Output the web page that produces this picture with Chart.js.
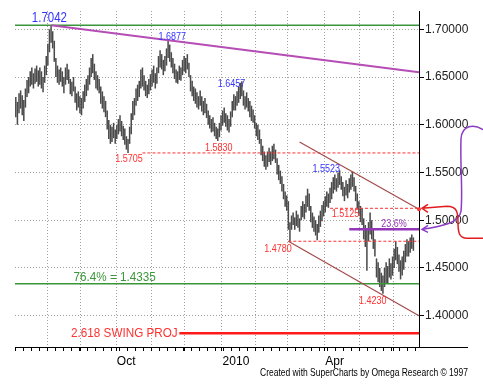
<!DOCTYPE html>
<html>
<head>
<meta charset="utf-8">
<script src="https://cdn.jsdelivr.net/npm/chart.js@4.4.1/dist/chart.umd.min.js"></script>
<style>
  html, body { margin: 0; padding: 0; background: #fff; }
</style>
</head>
<body>
<canvas id="myChart" width="483" height="390"></canvas>
<script>
// daily bars, [low, high] per trading day, one array per month
const jul09 = [[1.6080,1.6290],[1.6000,1.6240],[1.6120,1.6330],[1.6170,1.6360],[1.6100,1.6310],[1.6040,1.6260],[1.6180,1.6380],[1.6290,1.6470],[1.6330,1.6500],[1.6400,1.6560],
  [1.6420,1.6600],[1.6380,1.6540],[1.6430,1.6590],[1.6450,1.6620],[1.6400,1.6570],[1.6420,1.6600],[1.6380,1.6560],[1.6340,1.6500],[1.6440,1.6620],[1.6520,1.6720]];
const aug09 = [[1.6620,1.6850],[1.6760,1.7000],[1.6860,1.7042],[1.6800,1.6980],[1.6660,1.6880],[1.6500,1.6700],[1.6440,1.6620],[1.6420,1.6580],[1.6450,1.6600],[1.6400,1.6560],
  [1.6330,1.6500],[1.6420,1.6600],[1.6470,1.6640],[1.6430,1.6580],[1.6320,1.6480],[1.6300,1.6450],[1.6350,1.6500],[1.6230,1.6400],[1.6150,1.6330],[1.6180,1.6350],[1.6120,1.6300]];
const sep09 = [[1.6100,1.6280],[1.6170,1.6350],[1.6240,1.6420],[1.6300,1.6480],[1.6360,1.6520],[1.6420,1.6600],[1.6500,1.6700],[1.6540,1.6740],[1.6470,1.6640],[1.6380,1.6560],
  [1.6360,1.6520],[1.6330,1.6480],[1.6220,1.6400],[1.6170,1.6350],[1.6130,1.6300],[1.6080,1.6250],[1.5950,1.6150],[1.5850,1.6050],[1.5800,1.6000],[1.5820,1.5980],[1.5860,1.6020],[1.5800,1.5950]];
const oct09 = [[1.5850,1.6000],[1.5900,1.6060],[1.5930,1.6100],[1.5880,1.6040],[1.5840,1.5990],[1.5790,1.5960],[1.5740,1.5880],[1.5705,1.5850],[1.5800,1.5980],[1.5900,1.6120],
  [1.6050,1.6250],[1.6100,1.6280],[1.6200,1.6380],[1.6250,1.6420],[1.6290,1.6460],[1.6380,1.6580],[1.6400,1.6600],[1.6360,1.6520],[1.6300,1.6460],[1.6280,1.6420],[1.6320,1.6480],[1.6360,1.6530]];
const nov09 = [[1.6400,1.6580],[1.6440,1.6620],[1.6380,1.6540],[1.6430,1.6600],[1.6540,1.6720],[1.6600,1.6780],[1.6580,1.6740],[1.6520,1.6680],[1.6560,1.6720],[1.6620,1.6800],
  [1.6700,1.6877],[1.6660,1.6840],[1.6600,1.6760],[1.6540,1.6700],[1.6480,1.6640],[1.6440,1.6580],[1.6430,1.6560],[1.6470,1.6620],[1.6460,1.6600],[1.6520,1.6680],[1.6560,1.6720]];
const dec09 = [[1.6540,1.6700],[1.6580,1.6740],[1.6500,1.6650],[1.6350,1.6520],[1.6300,1.6460],[1.6250,1.6400],[1.6220,1.6380],[1.6180,1.6340],[1.6160,1.6300],[1.6200,1.6360],
  [1.6140,1.6300],[1.6100,1.6250],[1.6120,1.6280],[1.6070,1.6220],[1.6000,1.6150],[1.5960,1.6100],[1.5920,1.6060],[1.5930,1.6080],[1.5880,1.6020],[1.5850,1.5980],[1.5830,1.5960],[1.5870,1.6020],[1.5940,1.6100]];
const jan10 = [[1.5990,1.6150],[1.6020,1.6180],[1.5980,1.6120],[1.5940,1.6100],[1.5920,1.6060],[1.5980,1.6140],[1.6080,1.6250],[1.6150,1.6320],[1.6150,1.6300],[1.6200,1.6350],
  [1.6230,1.6400],[1.6270,1.6440],[1.6300,1.6457],[1.6200,1.6360],[1.6160,1.6300],[1.6180,1.6340],[1.6140,1.6280],[1.6080,1.6250],[1.6040,1.6200],[1.6020,1.6160],[1.5960,1.6100]];
const feb10 = [[1.5880,1.6020],[1.5840,1.6000],[1.5800,1.5950],[1.5680,1.5850],[1.5620,1.5780],[1.5560,1.5720],[1.5530,1.5680],[1.5560,1.5720],[1.5610,1.5760],[1.5580,1.5720],
  [1.5620,1.5780],[1.5640,1.5800],[1.5600,1.5740],[1.5480,1.5650],[1.5420,1.5580],[1.5380,1.5520],[1.5300,1.5460],[1.5220,1.5380],[1.5140,1.5300],[1.5100,1.5260]];
const mar10 = [[1.4900,1.5200],[1.4780,1.4980],[1.4900,1.5050],[1.4950,1.5080],[1.4900,1.5030],[1.4940,1.5100],[1.4920,1.5060],[1.4880,1.5020],[1.5000,1.5150],[1.5030,1.5200],
  [1.5010,1.5170],[1.5080,1.5260],[1.5140,1.5330],[1.5100,1.5280],[1.4980,1.5150],[1.4920,1.5080],[1.4880,1.5040],[1.4840,1.5000],[1.4790,1.4960],[1.4870,1.5050],[1.4930,1.5100],[1.4990,1.5160],[1.5040,1.5200]];
const apr10 = [[1.5080,1.5250],[1.5140,1.5300],[1.5130,1.5280],[1.5180,1.5340],[1.5220,1.5400],[1.5280,1.5450],[1.5320,1.5480],[1.5300,1.5440],[1.5340,1.5500],[1.5370,1.5523],
  [1.5320,1.5460],[1.5250,1.5400],[1.5200,1.5350],[1.5260,1.5420],[1.5230,1.5380],[1.5290,1.5440],[1.5320,1.5480],[1.5350,1.5510],[1.5300,1.5450],[1.5200,1.5360],[1.5120,1.5280],[1.5050,1.5200]];
const may10 = [[1.4980,1.5150],[1.4950,1.5125],[1.4800,1.5020],[1.4720,1.4950],[1.4470,1.4900],[1.4780,1.4980],[1.4850,1.5080],[1.4800,1.5000],[1.4700,1.4900],[1.4620,1.4800],
  [1.4400,1.4600],[1.4350,1.4560],[1.4300,1.4500],[1.4260,1.4450],[1.4230,1.4420],[1.4300,1.4500],[1.4340,1.4560],[1.4340,1.4520],[1.4400,1.4600],[1.4380,1.4550],[1.4420,1.4620]];
const jun10 = [[1.4500,1.4700],[1.4580,1.4780],[1.4540,1.4720],[1.4460,1.4640],[1.4380,1.4580],[1.4420,1.4620],[1.4480,1.4680],[1.4560,1.4750],[1.4620,1.4800],[1.4620,1.4780],
  [1.4660,1.4820],[1.4700,1.4850],[1.4680,1.4820]];

// axis settings
const firstDay = '2009-07-06';
const lastDay = '2010-06-22';
const yTicks = [1.40, 1.45, 1.50, 1.55, 1.60, 1.65, 1.70];
const yMin = 1.3672, yMax = 1.7192;
const xTickDays = ['2009-10-01', '2010-01-01', '2010-04-01'];
const xTickLabels = ['Oct', '2010', 'Apr'];

// marked levels
const swingTexts = ['1.7042', '1.6877', '1.6457', '1.5523', '1.5705', '1.5830', '1.5125', '1.4780', '1.4230'];
const fibLevel = 1.4335, fibText = '76.4% = 1.4335';
const retraceLevel = 1.4905, retraceText = '23.6%';
const projLevel = 1.3815, projText = '2.618 SWING PROJ';
const trendEnd = 1.6550;
const channelTop = [1.5820, 1.5115];
const channelBottom = [1.4780, 1.4000];
const footer = 'Created with SuperCharts by Omega Research \u00a9 1997';

// weekdays between the two dates
function tradingDays(a, b) {
  const out = [];
  const d = new Date(a + 'T00:00:00Z');
  const end = new Date(b + 'T00:00:00Z');
  while (d <= end) {
    const wd = d.getUTCDay();
    if (wd !== 0 && wd !== 6) out.push(d.toISOString().slice(0, 10));
    d.setUTCDate(d.getUTCDate() + 1);
  }
  return out;
}

const labels = tradingDays(firstDay, lastDay);
const bars = [].concat(jul09, aug09, sep09, oct09, nov09, dec09, jan10, feb10, mar10, apr10, may10, jun10);
while (bars.length < labels.length) bars.push(null);

const monthStart = new Set();
const weekStart = new Set();
labels.forEach((d, i) => {
  if (i > 0 && d.slice(5, 7) !== labels[i - 1].slice(5, 7)) monthStart.add(i);
  if (new Date(d + 'T00:00:00Z').getUTCDay() === 1) weekStart.add(i);
});
const xTickText = {};
xTickDays.forEach((d, k) => { xTickText[labels.indexOf(d)] = xTickLabels[k]; });

const FONT = "'Liberation Sans', Arial, sans-serif";

// lines and notes drawn on top of the bars, positioned through the scales
const notes = {
  id: 'notes',
  afterDatasetsDraw(chart) {
    const { ctx, chartArea: area } = chart;
    const xs = chart.scales.x, ys = chart.scales.y;
    const px = i => (i === 'left' ? area.left : i === 'right' ? area.right : xs.getPixelForValue(i));
    const py = p => ys.getPixelForValue(p);

    const line = (a, pa, b, pb, color, w, dash) => {
      ctx.save();
      ctx.strokeStyle = color;
      ctx.lineWidth = w;
      ctx.setLineDash(dash || []);
      ctx.beginPath();
      ctx.moveTo(px(a), py(pa));
      ctx.lineTo(px(b), py(pb));
      ctx.stroke();
      ctx.restore();
    };
    // old chart fonts are narrow, so squeeze the text a bit
    const text = (t, i, p, dy, color, size, sx, align, base) => {
      ctx.save();
      ctx.fillStyle = color;
      ctx.font = size + 'px ' + FONT;
      ctx.textAlign = align || 'left';
      ctx.textBaseline = base || 'alphabetic';
      ctx.translate(px(i), py(p) + dy);
      ctx.scale(sx, 1);
      ctx.fillText(t, 0, 0);
      ctx.restore();
    };

    const green = '#3a963a', red = '#ff3030', blue = '#3434ff', violet = '#9436b8', brown = '#a34a4a';
    const swingLevels = swingTexts.map(Number);

    line('left', swingLevels[0], 'right', swingLevels[0], green, 1.5);
    line('left', fibLevel, 'right', fibLevel, green, 1.5);
    line(22, swingLevels[0], 'right', trendEnd, '#b54db5', 2);
    line(79, swingLevels[4], 'right', swingLevels[4], red, 1, [3, 2]);
    line(196, swingLevels[6], 'right', swingLevels[6], red, 1, [3, 2]);
    line(170, swingLevels[7], 'right', swingLevels[7], red, 1, [3, 2]);
    line(177, channelTop[0], 'right', channelTop[1], brown, 1.2);
    line(170, channelBottom[0], 'right', channelBottom[1], brown, 1.2);
    line(208, retraceLevel, 'right', retraceLevel, violet, 2.5);
    line(102, projLevel, 'right', projLevel, '#ff1a1a', 2.5);

    ctx.save();
    ctx.fillStyle = red;
    ctx.beginPath();
    ctx.arc(area.right, py(channelTop[1]), 2, 0, Math.PI * 2);
    ctx.fill();
    ctx.restore();

    text(swingTexts[0], 10, swingLevels[0], -3, blue, 14, 0.82);
    text(swingTexts[1], 89, swingLevels[1], -1, blue, 10, 0.9);
    text(swingTexts[2], 126, swingLevels[2], 6, blue, 10, 0.9);
    text(swingTexts[3], 185, swingLevels[3], 2, blue, 10, 0.9);
    text(swingTexts[4], 62, swingLevels[4], 9, red, 10, 0.9);
    text(swingTexts[5], 118, swingLevels[5], 10, red, 10, 0.9);
    text(swingTexts[6], 197, swingLevels[6], 9, red, 10, 0.9);
    text(swingTexts[7], 155, swingLevels[7], 11, red, 10, 0.9);
    text(swingTexts[8], 214, swingLevels[8], 10, red, 10, 0.9);
    text(retraceText, 228, retraceLevel, -2.5, violet, 10, 0.9);
    text(fibText, 36, fibLevel, -3, green, 13, 0.9);
    text(projText, 101, projLevel, 0.5, red, 13, 0.9, 'right', 'middle');

    // hand drawn arrows right of the price scale
    const R = area.right;
    const yA = py(retraceLevel), yB = py(swingLevels[6]), yTop = py(1.598);
    ctx.save();
    ctx.lineWidth = 1.5;
    ctx.strokeStyle = '#8c3cc4';
    ctx.beginPath();
    ctx.moveTo(R + 64, yTop + 3);
    ctx.bezierCurveTo(R + 55, yTop - 3, R + 43, yTop - 2, R + 42, yTop + 12);
    ctx.bezierCurveTo(R + 41, yTop + 40, R + 44, yA - 40, R + 42, yA - 18);
    ctx.bezierCurveTo(R + 40, yA - 6, R + 22, yA - 3, R + 3, yA);
    ctx.moveTo(R + 9, yA - 4); ctx.lineTo(R + 3, yA); ctx.lineTo(R + 9, yA + 3);
    ctx.stroke();
    ctx.strokeStyle = '#e01c1c';
    ctx.beginPath();
    ctx.moveTo(R + 64, yB + 30);
    ctx.lineTo(R + 48, yB + 30);
    ctx.bezierCurveTo(R + 40, yB + 30, R + 39, yB + 24, R + 39, yB + 14);
    ctx.bezierCurveTo(R + 39, yB + 4, R + 38, yB - 2, R + 28, yB - 2);
    ctx.lineTo(R + 3, yB);
    ctx.moveTo(R + 9, yB - 4); ctx.lineTo(R + 3, yB); ctx.lineTo(R + 9, yB + 4);
    ctx.stroke();

    // axis line runs on under the price scale
    ctx.strokeStyle = '#000';
    ctx.lineWidth = 1;
    ctx.beginPath();
    ctx.moveTo(R, Math.round(area.bottom) + 0.5);
    ctx.lineTo(468, Math.round(area.bottom) + 0.5);
    ctx.stroke();

    ctx.fillStyle = '#000';
    ctx.font = '11px ' + FONT;
    ctx.textAlign = 'right';
    const fw = ctx.measureText(footer).width;
    ctx.translate(468, 376);
    ctx.scale(208 / fw, 1);
    ctx.fillText(footer, 0, 0);
    ctx.restore();
  }
};

new Chart(document.getElementById('myChart'), {
  type: 'bar',
  data: {
    labels: labels,
    datasets: [{
      data: bars,
      backgroundColor: '#4a4a4a',
      barPercentage: 0.95,
      categoryPercentage: 1
    }]
  },
  options: {
    responsive: false,
    animation: false,
    events: [],
    layout: { padding: { left: 15, top: 11, right: 0, bottom: 0 } },
    plugins: { legend: { display: false }, tooltip: { enabled: false } },
    scales: {
      x: {
        offset: true,
        grid: {
          offset: true,
          color: c => (monthStart.has(c.index) ? '#a0a0a0' : 'rgba(0,0,0,0)'),
          tickColor: c => (monthStart.has(c.index) || weekStart.has(c.index) ? '#000' : 'rgba(0,0,0,0)'),
          tickLength: 4
        },
        border: { color: '#000', dash: [1, 2] },
        ticks: {
          autoSkip: false,
          maxRotation: 0,
          align: 'start',
          padding: 3,
          color: '#000',
          font: { family: FONT, size: 12 },
          callback: (v, i) => xTickText[i] || ''
        },
        afterFit: s => { s.height = 43; }
      },
      y: {
        position: 'right',
        min: yMin,
        max: yMax,
        afterBuildTicks: s => { s.ticks = yTicks.map(v => ({ value: v })); },
        grid: { color: '#a0a0a0', tickColor: '#000', tickLength: 5 },
        border: { color: '#000', dash: [1, 2] },
        ticks: {
          padding: 1,
          color: '#222',
          font: { family: FONT, size: 12 },
          callback: v => v.toFixed(5)
        },
        afterFit: s => { s.width = 64; }
      }
    }
  },
  plugins: [notes]
});
</script>
</body>
</html>
